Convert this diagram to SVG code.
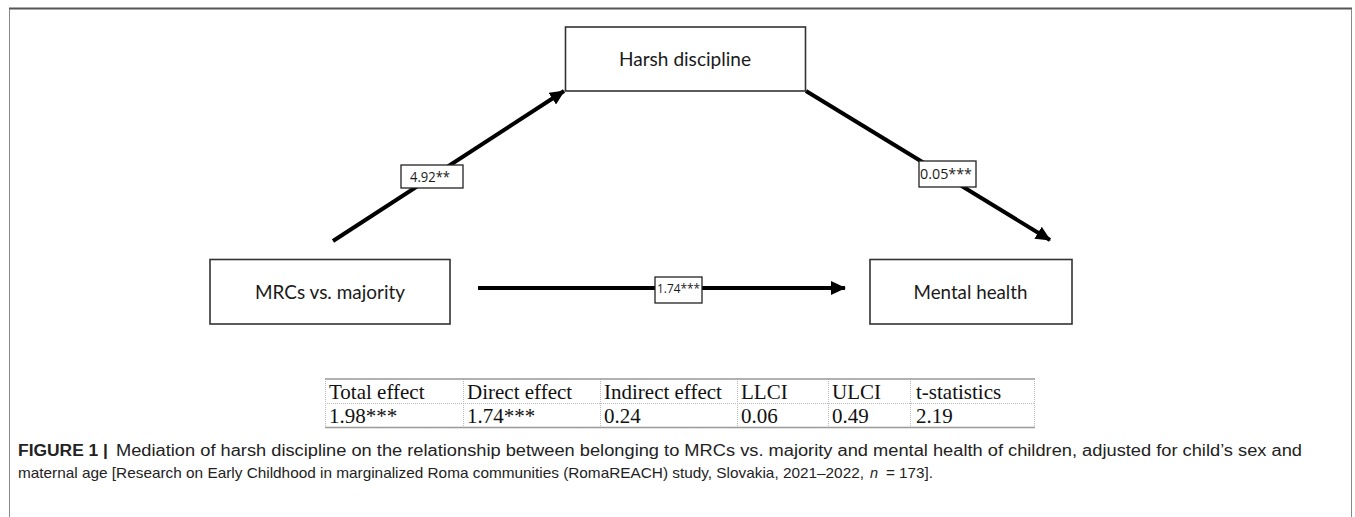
<svg xmlns="http://www.w3.org/2000/svg" width="1355" height="517" viewBox="0 0 1355 517">
<style>
.node rect{fill:#fff;stroke:#333;stroke-width:1.6}
.node text{font-family:Lato,"Liberation Sans",sans-serif;font-size:20px;fill:#1a1a1a;text-anchor:middle}
.edge{stroke:#000;stroke-width:4;fill:none}
.lbl rect{fill:#fff;stroke:#222;stroke-width:1.3}
.lbl text{font-family:"Open Sans","Liberation Sans",sans-serif;font-size:14px;fill:#1a1a1a}
.tb text{font-family:"Liberation Serif",serif;font-size:21px;fill:#111}
.dot{stroke:#bbb;stroke-width:1;stroke-dasharray:1 1}
.solid{stroke:#999;stroke-width:1.5}
.cap{font-family:"Liberation Sans",Arial,sans-serif;font-size:16px;fill:#222}
.cap2{font-family:"Liberation Sans",Arial,sans-serif;font-size:14.5px;fill:#222}
</style>
<defs>
<marker id="ah" markerUnits="userSpaceOnUse" markerWidth="16" markerHeight="14" refX="14" refY="7" orient="auto">
<path d="M0,0 L15,7 L0,14 Z" fill="#000"/>
</marker>
</defs>
<rect width="1355" height="517" fill="#fff"/>
<g id="frame">
<line x1="9" y1="8.5" x2="1352" y2="8.5" stroke="#555" stroke-width="2"/>
<line x1="9.5" y1="9" x2="9.5" y2="517" stroke="#888" stroke-width="1"/>
<line x1="1351.5" y1="9" x2="1351.5" y2="517" stroke="#888" stroke-width="1"/>
</g>
<g id="connectors">
<line class="edge" x1="333" y1="241" x2="564" y2="91" marker-end="url(#ah)"/>
<line class="edge" x1="806" y1="91" x2="1050" y2="240" marker-end="url(#ah)"/>
<line class="edge" x1="478" y1="288" x2="845" y2="288" marker-end="url(#ah)"/>
<g class="lbl" id="lbl-a"><rect x="401" y="165" width="62" height="23"/><text x="410" y="182" textLength="40" lengthAdjust="spacingAndGlyphs">4.92**</text></g>
<g class="lbl" id="lbl-b"><rect x="919" y="161" width="57" height="26"/><text x="920" y="179" textLength="52" lengthAdjust="spacingAndGlyphs">0.05***</text></g>
<g class="lbl" id="lbl-c"><rect x="655" y="277" width="47" height="26"/><text x="657" y="293" textLength="43" lengthAdjust="spacingAndGlyphs" style="font-size:13px">1.74***</text></g>
</g>
<g id="node-harsh" class="node"><rect x="565.5" y="27" width="240" height="64"/><text x="685" y="66" textLength="132" lengthAdjust="spacingAndGlyphs">Harsh discipline</text></g>
<g id="node-mrcs" class="node"><rect x="210" y="259.5" width="240" height="64.5"/><text x="330" y="299" textLength="150" lengthAdjust="spacingAndGlyphs">MRCs vs. majority</text></g>
<g id="node-mental" class="node"><rect x="870" y="259.5" width="202" height="64.5"/><text x="970.5" y="299" textLength="114" lengthAdjust="spacingAndGlyphs">Mental health</text></g>
<g id="table" class="tb">
<line class="dot" x1="325" y1="403.5" x2="1035" y2="403.5"/>
<line class="dot" x1="325.5" y1="379" x2="325.5" y2="427"/>
<line class="dot" x1="463.5" y1="379" x2="463.5" y2="427"/>
<line class="dot" x1="600.5" y1="379" x2="600.5" y2="427"/>
<line class="dot" x1="737.5" y1="379" x2="737.5" y2="427"/>
<line class="dot" x1="828.5" y1="379" x2="828.5" y2="427"/>
<line class="dot" x1="910.5" y1="379" x2="910.5" y2="427"/>
<line class="dot" x1="1034.5" y1="379" x2="1034.5" y2="427"/>
<line class="solid" x1="325" y1="379" x2="1035" y2="379"/>
<line class="solid" x1="325" y1="427.5" x2="1035" y2="427.5"/>
<text x="329" y="399">Total effect</text>
<text x="467" y="399">Direct effect</text>
<text x="604" y="399">Indirect effect</text>
<text x="741" y="399">LLCI</text>
<text x="832" y="399">ULCI</text>
<text x="916" y="399">t-statistics</text>
<text x="329" y="423">1.98***</text>
<text x="467" y="423">1.74***</text>
<text x="604" y="423">0.24</text>
<text x="741" y="423">0.06</text>
<text x="832" y="423">0.49</text>
<text x="916" y="423">2.19</text>
</g>
<g id="caption">
<text class="cap" x="18" y="456" font-weight="bold" textLength="90" lengthAdjust="spacingAndGlyphs">FIGURE 1 |</text>
<text class="cap" x="116" y="456" textLength="1186" lengthAdjust="spacingAndGlyphs">Mediation of harsh discipline on the relationship between belonging to MRCs vs. majority and mental health of children, adjusted for child’s sex and</text>
<text class="cap2" x="18" y="478" textLength="846" lengthAdjust="spacingAndGlyphs">maternal age [Research on Early Childhood in marginalized Roma communities (RomaREACH) study, Slovakia, 2021–2022,</text>
<text class="cap2" x="870" y="478" font-style="italic">n</text>
<text class="cap2" x="886" y="478" textLength="47" lengthAdjust="spacingAndGlyphs">= 173].</text>
</g>
</svg>
